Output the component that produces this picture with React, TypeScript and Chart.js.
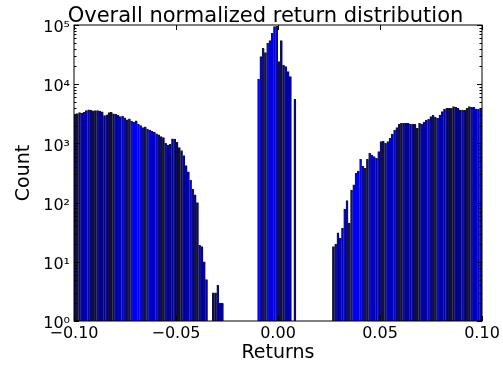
import React, { useEffect, useRef } from 'react';
import { Chart, registerables } from 'chart.js';

Chart.register(...registerables);

const titleText = 'Overall normalized return distribution';
const xLabel = 'Returns';
const yLabel = 'Count';

const xTicks = [-0.1, -0.05, 0, 0.05, 0.1];
const xTickLabels = ['−0.10', '−0.05', '0.00', '0.05', '0.10'];
const yTicks = [1, 10, 100, 1000, 10000, 100000];
const yTickLabels = ['10⁰', '10¹', '10²', '10³', '10⁴', '10⁵'];

// histogram bins: 180 bins spanning -0.1 .. 0.1
const binStart = -0.1;
const binCount = 180;
const binWidth = 0.2 / binCount;

// bins 0..65
const leftTail = [
  3140, 3200, 3300, 3250, 3350, 3600, 3700, 3650, 3550, 3600,
  3580, 3500, 3400, 2950, 3050, 3300, 3350, 3150, 3100, 3000,
  2850, 2900, 2700, 2500, 2600, 2350, 2300, 2400, 2100, 2000,
  1850, 1900, 1750, 1680, 1600, 1550, 1450, 1400, 1300, 1250,
  1000, 940, 960, 1200, 1180, 1050, 850, 760, 620, 420,
  330, 240, 170, 135, 100, 19, 18, 10, 5, null,
  null, 3, 3, 4, 2, 2,
];
// bins 66..80 empty
const leftGap = [null, null, null, null, null, null, null, null, null, null, null, null, null, null, null];
// bins 81..97
const core = [
  12240, 29150, 40400, 34050, 49100, 54300, 72400, 93600, 95000,
  24000, 54300, 21100, 19750, 16260, 13390, null, 5560,
];
// bins 98..113 empty
const rightGap = [null, null, null, null, null, null, null, null, null, null, null, null, null, null, null, null];
// bins 114..179
const rightTail = [
  18, 20, 31, 25, 37, 77, 108, 45, 163, 200,
  313, 342, 539, 415, 380, 539, 680, 637, 600, 560,
  724, 1069, 1098, 1004, 1069, 1220, 1442, 1684, 1842, 2102,
  2185, 2185, 2185, 2185, 2128, 2128, 2102, 1799, 2185, 2128,
  2298, 2485, 2553, 2826, 2985, 2761, 2655, 3020, 3432, 3767,
  3918, 3918, 3918, 4169, 4073, 3918, 3665, 3665, 3665, 3918,
  4169, 4073, 4073, 3810, 3810, 3810,
];

const counts: (number | null)[] = [...leftTail, ...leftGap, ...core, ...rightGap, ...rightTail];

// colour shading stops (x position -> blue intensity)
const shadeStops: [number, number][] = [
  [-0.1, 0.6], [-0.092, 0.55], [-0.086, 0.3], [-0.08, 0.5], [-0.07, 1.0], [-0.065, 0.95],
  [-0.06, 0.65], [-0.052, 0.35], [-0.047, 0.4], [-0.042, 0.7], [-0.037, 0.4], [-0.027, 0.4],
  [-0.0105, 1.0], [-0.003, 0.85], [0.002, 0.55], [0.009, 0.45],
  [0.026, 0.5], [0.031, 0.6], [0.036, 1.0], [0.042, 0.9], [0.048, 0.6], [0.055, 0.7],
  [0.063, 0.45], [0.07, 0.5], [0.077, 0.7], [0.083, 0.4], [0.09, 0.35], [0.095, 0.7], [0.1, 0.6],
];

function shadeAt(x: number): string {
  let v = shadeStops[0][1];
  for (let i = 0; i < shadeStops.length - 1; i++) {
    const [x0, v0] = shadeStops[i];
    const [x1, v1] = shadeStops[i + 1];
    if (x >= x0 && x <= x1) {
      v = v0 + ((x - x0) / (x1 - x0)) * (v1 - v0);
      break;
    }
    if (x > x1) v = v1;
  }
  return `rgb(0,0,${Math.round(255 * (0.3 + 0.7 * v))})`;
}

const FONT = 'DejaVu Sans';

const decorPlugin = {
  id: 'decor',
  afterDraw(chart: any) {
    const { ctx, chartArea } = chart;
    const { left, right, top, bottom } = chartArea;
    const xs = chart.scales.x;
    const ys = chart.scales.y;
    ctx.save();
    ctx.strokeStyle = '#000';
    ctx.lineWidth = 1;
    ctx.beginPath();
    for (const v of xTicks) {
      const px = Math.round(xs.getPixelForValue(v)) + 0.5;
      ctx.moveTo(px, bottom);
      ctx.lineTo(px, bottom - 5);
      ctx.moveTo(px, top);
      ctx.lineTo(px, top + 5);
    }
    for (let d = 0; d < yTicks.length; d++) {
      for (let m = 1; m < 10; m++) {
        const v = yTicks[d] * m;
        if (v > yTicks[yTicks.length - 1]) break;
        const py = Math.round(ys.getPixelForValue(v)) + 0.5;
        const len = m === 1 ? 5 : 2.5;
        ctx.moveTo(left, py);
        ctx.lineTo(left + len, py);
        ctx.moveTo(right, py);
        ctx.lineTo(right - len, py);
      }
    }
    ctx.stroke();
    ctx.strokeRect(left, top, right - left, bottom - top);
    // title
    ctx.fillStyle = '#000';
    ctx.font = `21px "${FONT}"`;
    ctx.textAlign = 'center';
    ctx.textBaseline = 'alphabetic';
    ctx.fillText(titleText, chart.width / 2 + 14, top - 3);
    ctx.restore();
  },
};

export default function App() {
  const ref = useRef<HTMLCanvasElement | null>(null);
  useEffect(() => {
    if (!ref.current) return;
    const points = counts.map((c, i) => ({ x: binStart + (i + 0.5) * binWidth, y: c }));
    const chart = new Chart(ref.current, {
      type: 'bar',
      data: {
        datasets: [
          {
            data: points as any,
            backgroundColor: (c: any) => (c.raw ? shadeAt(c.raw.x) : '#0000ff'),
            borderColor: 'rgba(0,0,0,0.9)',
            borderWidth: { left: 0.8, top: 1, right: 0, bottom: 0 } as any,
            borderSkipped: false,
            barPercentage: 1,
            categoryPercentage: 1,
          },
        ],
      },
      options: {
        animation: false,
        responsive: false,
        devicePixelRatio: 1,
        layout: { padding: { left: 0, right: 21, top: 25, bottom: 0 } },
        plugins: {
          legend: { display: false },
          title: { display: false },
          tooltip: { enabled: false },
        },
        scales: {
          x: {
            type: 'linear',
            min: -0.1,
            max: 0.1,
            offset: false,
            grid: { display: false, drawTicks: false },
            border: { display: false },
            afterBuildTicks: (s: any) => {
              s.ticks = xTicks.map((v) => ({ value: v }));
            },
            ticks: {
              callback: (_v: any, i: number) => xTickLabels[i],
              font: { family: FONT, size: 16 },
              color: '#000',
              padding: 3,
              maxRotation: 0,
              autoSkip: false,
            },
            title: {
              display: true,
              text: xLabel,
              font: { family: FONT, size: 19 },
              color: '#000',
              padding: { top: 0, bottom: 2 },
            },
            afterFit: (s: any) => {
              s.height = 45;
            },
          },
          y: {
            type: 'logarithmic',
            min: 1,
            max: 100000,
            grid: { display: false, drawTicks: false },
            border: { display: false },
            afterBuildTicks: (s: any) => {
              s.ticks = yTicks.map((v) => ({ value: v }));
            },
            ticks: {
              callback: (_v: any, i: number) => yTickLabels[i],
              font: { family: FONT, size: 16 },
              color: '#000',
              padding: 4,
              labelOffset: 3,
              autoSkip: false,
            },
            title: {
              display: true,
              text: yLabel,
              font: { family: FONT, size: 19 },
              color: '#000',
              padding: { top: 13, bottom: 0 },
            },
            afterFit: (s: any) => {
              s.width = 74;
            },
          },
        },
      },
      plugins: [decorPlugin],
    });
    return () => chart.destroy();
  }, []);
  return (
    <div style={{ position: 'absolute', left: 0, top: 0, width: 503, height: 366 }}>
      <canvas ref={ref} width={503} height={366} />
    </div>
  );
}
